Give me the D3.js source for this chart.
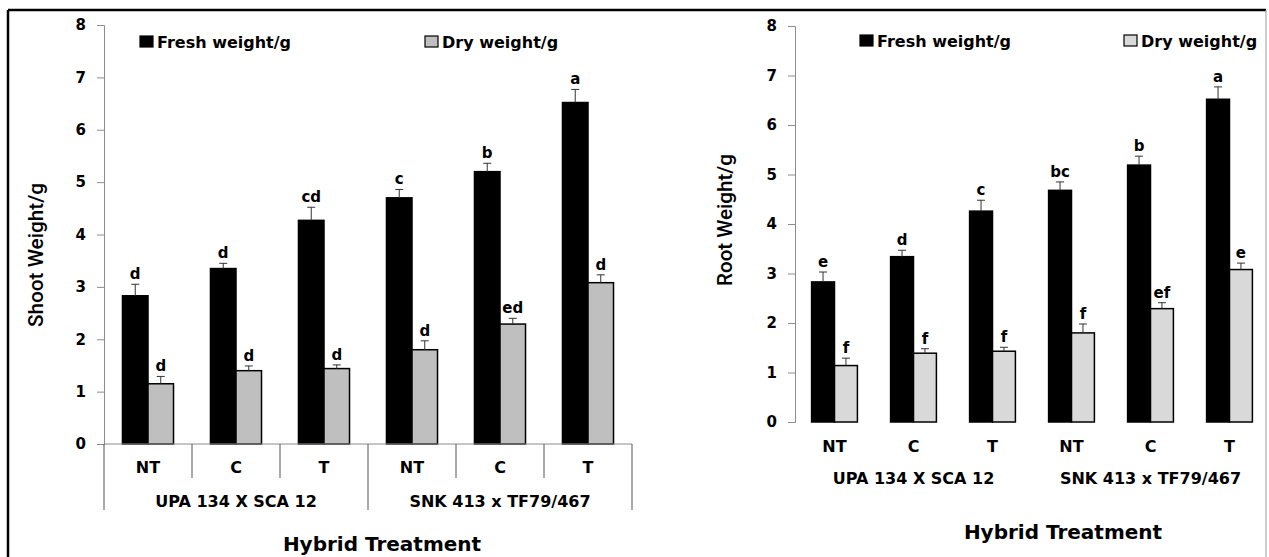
<!DOCTYPE html>
<html>
<head>
<meta charset="utf-8">
<script src="https://cdn.jsdelivr.net/npm/d3@7"></script>
<style>
  body { margin: 0; background: #fff; }
  text { font-family: "DejaVu Sans", sans-serif; font-weight: bold; fill: #000; }
</style>
</head>
<body>
<div id="chart"></div>
<script>
// treatments and hybrids
var treatments = ["NT", "C", "T", "NT", "C", "T"];
var hybrids = ["UPA 134 X SCA 12", "SNK 413 x TF79/467"];
var yTicks = [0, 1, 2, 3, 4, 5, 6, 7, 8];

// shoot
var shootFresh = [2.83, 3.35, 4.27, 4.70, 5.20, 6.52];
var shootFreshErr = [0.22, 0.10, 0.25, 0.16, 0.16, 0.25];
var shootDry = [1.15, 1.40, 1.44, 1.80, 2.29, 3.08];
var shootDryErr = [0.14, 0.09, 0.07, 0.17, 0.11, 0.15];
var shootFreshLetters = ["d", "d", "cd", "c", "b", "a"];
var shootDryLetters = ["d", "d", "d", "d", "ed", "d"];

// root
var rootFresh = [2.83, 3.34, 4.26, 4.68, 5.19, 6.52];
var rootFreshErr = [0.20, 0.13, 0.22, 0.17, 0.18, 0.25];
var rootDry = [1.14, 1.39, 1.43, 1.80, 2.29, 3.08];
var rootDryErr = [0.15, 0.09, 0.08, 0.18, 0.12, 0.13];
var rootFreshLetters = ["e", "d", "c", "bc", "b", "a"];
var rootDryLetters = ["f", "f", "f", "f", "ef", "e"];

var width = 1269, height = 557;

var svg = d3.select("#chart").append("svg")
    .attr("width", width)
    .attr("height", height)

// outer frame
svg.append("line").attr("x1", 8).attr("x2", 1266).attr("y1", 10).attr("y2", 10)
    .attr("stroke", "#000").attr("stroke-width", 2.5)
svg.append("line").attr("x1", 8).attr("x2", 8).attr("y1", 10).attr("y2", 557)
    .attr("stroke", "#000").attr("stroke-width", 2.5)
svg.append("line").attr("x1", 1266).attr("x2", 1266).attr("y1", 10).attr("y2", 557)
    .attr("stroke", "#999").attr("stroke-width", 1)

function drawPanel(p){
    var x0 = d3.scaleBand()
        .domain(d3.range(treatments.length))
        .range([p.left, p.right])
        .paddingInner(0.42)
        .paddingOuter(0.21)

    var x1 = d3.scaleBand()
        .domain(["fresh", "dry"])
        .range([0, x0.bandwidth()])

    var y = d3.scaleLinear()
        .domain([0, 8])
        .range([p.bottom, p.top])

    var g = svg.append("g")

    // y axis
    var yAxis = g.append("g")
        .attr("transform", "translate(" + p.left + ",0)")
        .call(d3.axisLeft(y).tickValues(yTicks).tickSize(7).tickPadding(11))
    yAxis.select(".domain").attr("stroke", "#8c8c8c")
    yAxis.selectAll(".tick line").attr("stroke", "#8c8c8c")
    yAxis.selectAll(".tick text")
        .style("font-family", "DejaVu Sans").style("font-weight", "bold")
        .style("font-size", "15px").attr("fill", "#000")

    g.append("text")
        .attr("transform", "translate(" + p.titleX + "," + p.titleY + ") rotate(-90)")
        .attr("text-anchor", "middle")
        .attr("dy", "0.35em")
        .attr("textLength", p.titleLen)
        .attr("lengthAdjust", "spacingAndGlyphs")
        .style("font-family", "Roboto").style("font-weight", "500")
        .style("font-size", "21px")
        .text(p.title)

    var rows = treatments.map(function(t, i){
        return [
            {i: i, key: "fresh", v: p.fresh[i], e: p.freshErr[i], l: p.freshLetters[i]},
            {i: i, key: "dry", v: p.dry[i], e: p.dryErr[i], l: p.dryLetters[i]}
        ]
    })
    var items = d3.merge(rows)

    g.selectAll(".bar")
        .data(items)
        .enter()
        .append("rect")
        .attr("class", "bar")
        .attr("x", function(d){ return x0(d.i) + x1(d.key) })
        .attr("y", function(d){ return y(d.v) })
        .attr("width", x1.bandwidth())
        .attr("height", function(d){ return y(0) - y(d.v) })
        .attr("fill", function(d){ return d.key == "fresh" ? "#000" : p.dryColor })
        .attr("stroke", "#000")
        .attr("stroke-width", 1.5)

    // error bars
    var cx = function(d){ return x0(d.i) + x1(d.key) + x1.bandwidth() / 2 }
    g.selectAll(".err")
        .data(items)
        .enter()
        .append("line")
        .attr("x1", cx).attr("x2", cx)
        .attr("y1", function(d){ return y(d.v) })
        .attr("y2", function(d){ return y(d.v + d.e) })
        .attr("stroke", "#333")
        .attr("stroke-width", 1)
    g.selectAll(".cap")
        .data(items)
        .enter()
        .append("line")
        .attr("x1", function(d){ return cx(d) - 4 })
        .attr("x2", function(d){ return cx(d) + 4 })
        .attr("y1", function(d){ return y(d.v + d.e) })
        .attr("y2", function(d){ return y(d.v + d.e) })
        .attr("stroke", "#333")
        .attr("stroke-width", 1)

    g.selectAll(".letter")
        .data(items)
        .enter()
        .append("text")
        .attr("x", cx)
        .attr("y", function(d){ return y(d.v + d.e) - 5 })
        .attr("text-anchor", "middle")
        .style("font-size", "15px")
        .text(function(d){ return d.l })

    // x labels
    g.selectAll(".treat")
        .data(treatments)
        .enter()
        .append("text")
        .attr("x", function(d, i){ return x0(i) + x0.bandwidth() / 2 })
        .attr("y", p.treatY)
        .attr("dy", "0.35em")
        .attr("text-anchor", "middle")
        .style("font-size", "16px")
        .text(function(d){ return d })

    var step = x0.step()
    g.selectAll(".hybrid")
        .data(hybrids)
        .enter()
        .append("text")
        .attr("x", function(d, i){ return p.left + step * 3 * i + step * 1.5 })
        .attr("y", p.hybridY)
        .attr("dy", "0.35em")
        .attr("text-anchor", "middle")
        .style("font-size", "16px")
        .text(function(d){ return d })

    g.append("text")
        .attr("x", p.xTitleX)
        .attr("y", p.xTitleY)
        .attr("dy", "0.35em")
        .attr("text-anchor", "middle")
        .style("font-size", "20px")
        .text("Hybrid Treatment")

    if (p.separators) {
        g.append("line")
            .attr("x1", p.left).attr("x2", p.right)
            .attr("y1", p.bottom).attr("y2", p.bottom)
            .attr("stroke", "#8c8c8c")
        g.selectAll(".sep")
            .data(d3.range(treatments.length + 1))
            .enter()
            .append("line")
            .attr("x1", function(d){ return p.left + d * step })
            .attr("x2", function(d){ return p.left + d * step })
            .attr("y1", p.bottom)
            .attr("y2", function(d){ return d % 3 == 0 ? p.sepLong : p.sepShort })
            .attr("stroke", "#555")
            .attr("stroke-width", 1)
    }

    // legend
    var legend = [
        {name: "Fresh weight/g", fill: "#000", x: p.legFresh},
        {name: "Dry weight/g", fill: p.dryColor, x: p.legDry}
    ]
    var lg = g.selectAll(".legend")
        .data(legend)
        .enter()
        .append("g")
        .attr("transform", function(d){ return "translate(" + d.x + "," + p.legY + ")" })
    lg.append("rect")
        .attr("x", 0).attr("y", -6)
        .attr("width", 13).attr("height", 11)
        .attr("fill", function(d){ return d.fill })
        .attr("stroke", "#000").attr("stroke-width", 1.2)
    lg.append("text")
        .attr("x", 17)
        .attr("dy", "0.35em")
        .style("font-size", "16px")
        .text(function(d){ return d.name })
}

drawPanel({
    left: 104, right: 632, top: 25, bottom: 444,
    fresh: shootFresh, freshErr: shootFreshErr, dry: shootDry, dryErr: shootDryErr,
    freshLetters: shootFreshLetters, dryLetters: shootDryLetters,
    dryColor: "#bfbfbf",
    title: "Shoot Weight/g", titleX: 36, titleY: 255, titleLen: 144,
    treatY: 467, hybridY: 501, xTitleX: 382, xTitleY: 544,
    separators: true, sepShort: 478, sepLong: 510,
    legFresh: 140, legDry: 425, legY: 42
})

drawPanel({
    left: 795, right: 1269, top: 26, bottom: 422,
    fresh: rootFresh, freshErr: rootFreshErr, dry: rootDry, dryErr: rootDryErr,
    freshLetters: rootFreshLetters, dryLetters: rootDryLetters,
    dryColor: "#d9d9d9",
    title: "Root Weight/g", titleX: 725, titleY: 220, titleLen: 132,
    treatY: 446, hybridY: 478, xTitleX: 1063, xTitleY: 532,
    separators: false,
    legFresh: 860, legDry: 1124, legY: 41
})
</script>
</body>
</html>
